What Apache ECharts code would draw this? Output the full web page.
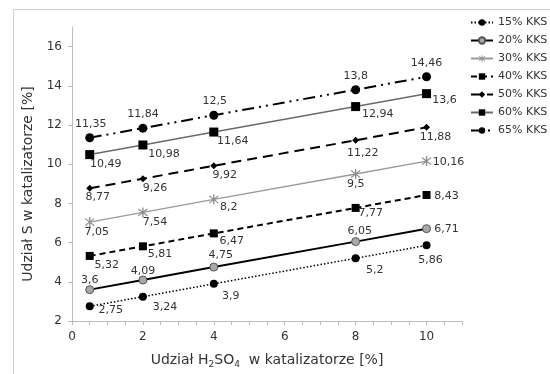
<!DOCTYPE html>
<html>
<head>
<meta charset="utf-8">
<script src="https://cdn.jsdelivr.net/npm/echarts@6/dist/echarts.min.js"></script>
<style>html,body{margin:0;padding:0;background:#fff;}#c{width:550px;height:374px;}</style>
</head>
<body>
<div id="c"></div>
<script>
// ---- data ----
var xValues = [0.5, 2, 4, 8, 10];
var seriesNames = ['15% KKS', '20% KKS', '30% KKS', '40% KKS', '50% KKS', '60% KKS', '65% KKS'];
var s15 = [2.75, 3.24, 3.9, 5.2, 5.86];
var s20 = [3.6, 4.09, 4.75, 6.05, 6.71];
var s30 = [7.05, 7.54, 8.2, 9.5, 10.16];
var s40 = [5.32, 5.81, 6.47, 7.77, 8.43];
var s50 = [8.77, 9.26, 9.92, 11.22, 11.88];
var s60 = [10.49, 10.98, 11.64, 12.94, 13.6];
var s65 = [11.35, 11.84, 12.5, 13.8, 14.46];
var xTickLabels = [0, 2, 4, 6, 8, 10];
var yTickLabels = [2, 4, 6, 8, 10, 12, 14, 16];

// ---- styling (label placement relative to marker centre) ----
var labelOffsets = [
  [[21, 4], [22, 10], [17, 12], [19, 12], [4, 15]],
  [[0, -9], [0, -9], [7, -12], [4, -10], [20, 0]],
  [[7, 10], [12, 10], [15, 8], [0, 10], [22, 1]],
  [[17, 9], [17, 8], [18, 8], [15, 5], [20, 1]],
  [[8, 9], [12, 9], [11, 9], [7, 13], [9, 10]],
  [[16, 10], [21, 9], [19, 9], [22, 8], [18, 7]],
  [[1, -14], [0, -14], [1, -14], [0, -14], [0, -14]]
];
var asterisk = 'path://M-0.6,-6H0.6V6H-0.6Z M-3.82,-4.66L4.66,3.82L3.82,4.66L-4.66,-3.82Z M-3.82,4.66L-4.66,3.82L3.82,-4.66L4.66,-3.82Z';
var styles = [
  {line: {color: '#000', width: 1.5, type: [1.5, 2]}, symbol: 'circle', size: 8, item: {color: '#000'}},
  {line: {color: '#000', width: 2, type: 'solid'}, symbol: 'circle', size: 8, item: {color: '#a8a8a8', borderColor: '#555', borderWidth: 1}},
  {line: {color: '#9a9a9a', width: 1.3, type: 'solid'}, symbol: asterisk, size: 10, item: {color: '#8a8a8a'}},
  {line: {color: '#000', width: 2, type: [6, 4]}, symbol: 'rect', size: 8, item: {color: '#000'}},
  {line: {color: '#000', width: 2, type: [10, 6]}, symbol: 'diamond', size: 7, item: {color: '#000'}},
  {line: {color: '#6a6a6a', width: 1.5, type: 'solid'}, symbol: 'rect', size: 9, item: {color: '#000'}},
  {line: {color: '#000', width: 2, type: [12, 5, 2, 5, 2, 5]}, symbol: 'circle', size: 9, item: {color: '#000'}}
];

var allSeries = [s15, s20, s30, s40, s50, s60, s65];
var FONT = 'DejaVu Sans';

function fmt(v) { return String(v).replace('.', ','); }

var series = allSeries.map(function (vals, si) {
  var st = styles[si];
  return {
    name: seriesNames[si],
    type: 'line',
    symbol: st.symbol,
    symbolSize: st.size,
    lineStyle: st.line,
    itemStyle: st.item,
    z: 2 + si,
    data: vals.map(function (v, i) {
      return {
        value: [xValues[i], v],
        label: {
          show: true,
          position: 'inside',
          offset: labelOffsets[si][i],
          formatter: function (p) { return fmt(p.value[1]); },
          color: '#333',
          fontSize: 11,
          fontFamily: FONT,
          textBorderWidth: 0
        }
      };
    }),
    emphasis: {disabled: true},
    animation: false
  };
});

var xTicks = [];
for (var t = 0; t <= 22; t++) xTicks.push(t * 0.5);

var chart = echarts.init(document.getElementById('c'), null, {renderer: 'canvas'});
chart.setOption({
  backgroundColor: '#fff',
  animation: false,
  textStyle: {fontFamily: FONT},
  graphic: [{
    type: 'rect',
    shape: {x: 13.5, y: 9.5, width: 560, height: 400},
    style: {fill: 'none', stroke: '#cfcfcf', lineWidth: 1},
    silent: true, z: -10
  }],
  grid: {left: 72, right: 88, top: 27, bottom: 52},
  legend: {
    orient: 'vertical',
    left: 470,
    top: 17,
    padding: 0,
    itemWidth: 22,
    itemHeight: 8,
    itemGap: 7,
    textStyle: {fontSize: 11, color: '#333', fontFamily: FONT},
    data: seriesNames
  },
  xAxis: {
    type: 'value',
    min: 0, max: 11, interval: 0.5,
    name: 'Udział H{sub|2}SO{sub|4}  w katalizatorze [%]',
    nameLocation: 'middle',
    nameGap: 31,
    nameTextStyle: {
      fontSize: 14, color: '#333', fontFamily: FONT,
      rich: {sub: {fontSize: 9, color: '#333', fontFamily: FONT, padding: [8, 0, 0, 0]}}
    },
    axisLine: {lineStyle: {color: '#bdbdbd'}},
    axisTick: {show: true, length: 4, lineStyle: {color: '#bdbdbd'}, customValues: xTicks},
    axisLabel: {fontSize: 12, color: '#333', margin: 10, fontFamily: FONT, customValues: xTickLabels},
    splitLine: {show: false}
  },
  yAxis: {
    type: 'value',
    min: 2, max: 17, interval: 1,
    name: 'Udział S w katalizatorze [%]',
    nameLocation: 'middle',
    nameGap: 36,
    nameTextStyle: {fontSize: 14, color: '#333', fontFamily: FONT, padding: [0, 20, 0, 0]},
    axisLine: {show: true, lineStyle: {color: '#bdbdbd'}},
    axisTick: {show: true, length: 4, lineStyle: {color: '#bdbdbd'}, customValues: yTickLabels},
    axisLabel: {fontSize: 12, color: '#333', margin: 10, fontFamily: FONT, customValues: yTickLabels},
    splitLine: {show: false}
  },
  series: series
});
</script>
</body>
</html>
